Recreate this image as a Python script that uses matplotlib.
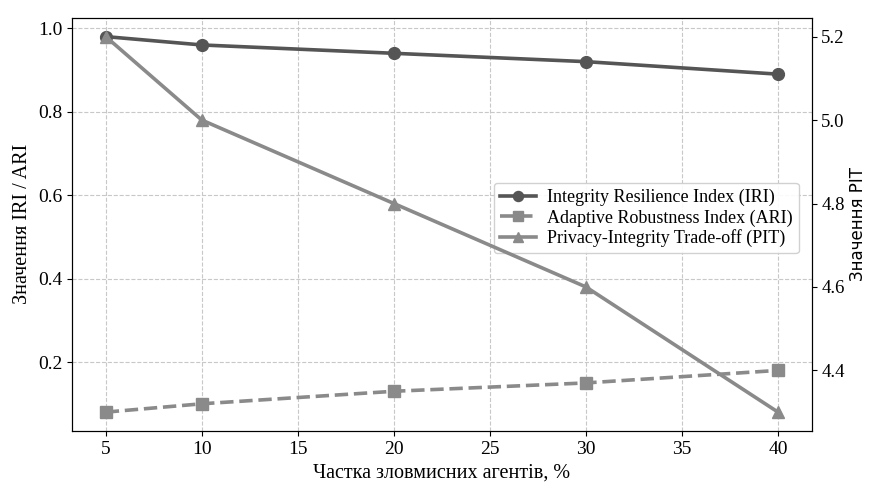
import matplotlib.pyplot as plt

# Дані
agents_pct = [5, 10, 20, 30, 40]
iri = [0.98, 0.96, 0.94, 0.92, 0.89]
ari = [0.08, 0.10, 0.13, 0.15, 0.18]
pit = [5.2, 5.0, 4.8, 4.6, 4.3]

plt.rcParams['font.family'] = ['Liberation Serif', 'DejaVu Serif']

fig = plt.figure(figsize=(8.69, 4.82), dpi=100)
ax = fig.add_axes([0.083, 0.106, 0.851, 0.857])
ax2 = ax.twinx()

l1, = ax.plot(agents_pct, iri, color='#555555', marker='o', markersize=8.5,
              linewidth=2.6, label='Integrity Resilience Index (IRI)')
l2, = ax.plot(agents_pct, ari, color='#8a8a8a', marker='s', markersize=8.5,
              linewidth=2.6, linestyle='--', label='Adaptive Robustness Index (ARI)')
l3, = ax2.plot(agents_pct, pit, color='#8a8a8a', marker='^', markersize=8.5,
               linewidth=2.6, label='Privacy-Integrity Trade-off (PIT)')

ax.set_xticks([5, 10, 15, 20, 25, 30, 35, 40])
ax.set_yticks([0.2, 0.4, 0.6, 0.8, 1.0])
ax2.set_yticks([4.4, 4.6, 4.8, 5.0, 5.2])
ax.grid(True, linestyle='--', color='#c8c8c8', linewidth=0.8)

ax.tick_params(labelsize=14)
ax2.tick_params(labelsize=13.5)
ax.set_xlabel('Частка зловмисних агентів, %', fontsize=14.5)
ax.set_ylabel('Значення IRI / ARI', fontsize=14.5)
ax2.set_ylabel('Значення PIT', fontsize=12, family=['DejaVu Sans'])
ax2.yaxis.set_label_coords(1.05, 0.5)

ax.legend(handles=[l1, l2, l3], loc='center right', bbox_to_anchor=(0.995, 0.515),
          fontsize=13, framealpha=0.9, handlelength=2.0, borderpad=0.35,
          labelspacing=0.15, handletextpad=0.6, markerscale=0.85)

fig.savefig('out.png')
